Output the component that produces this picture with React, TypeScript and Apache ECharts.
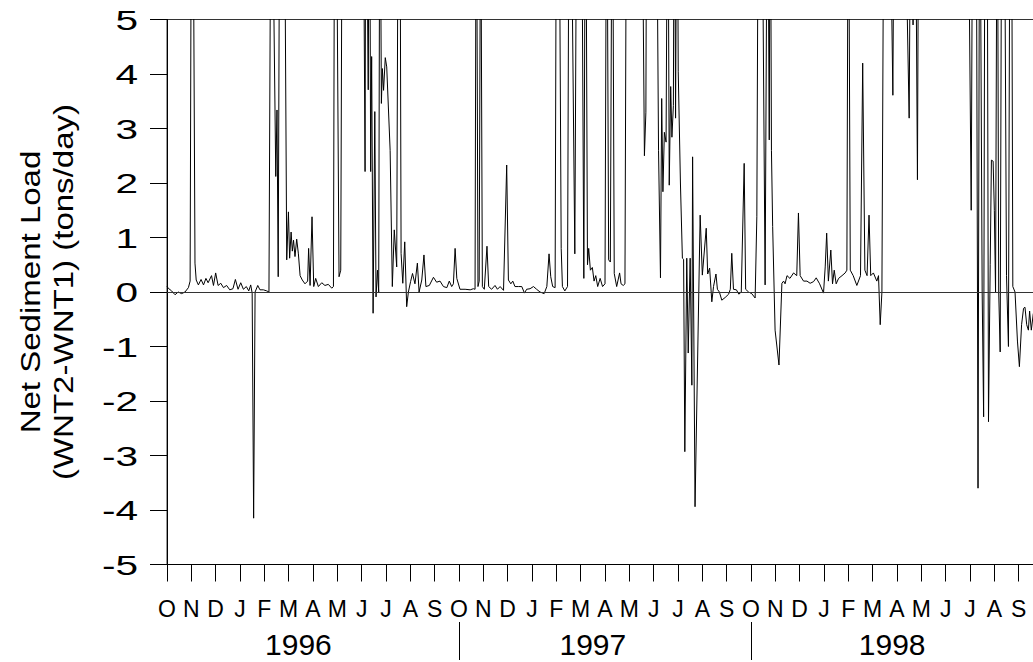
import React, { useEffect, useRef } from 'react';
import * as echarts from 'echarts';

// Month tick labels (water years Oct 1995 – Sep 1998)
const monthLetters = ['O', 'N', 'D', 'J', 'F', 'M', 'A', 'M', 'J', 'J', 'A', 'S'];
const yearLabels = ['1996', '1997', '1998'];
const yearBoundaries = [12, 24]; // months since Oct 1995 where a water year begins
const yTicks = [-5, -4, -3, -2, -1, 0, 1, 2, 3, 4, 5];
const yTitle = ['Net Sediment Load', '(WNT2-WNT1) (tons/day)'];

// [months since 1 Oct 1995, net sediment load (tons/day)]; values above 5 run off the top
const netLoad: [number, number][] = [
  [0.00, 0.10], [0.05, 0.07], [0.19, 0.02], [0.33, -0.05], [0.46, 0.00], [0.60, -0.03], [0.74, 0.00], [0.88, 0.08],
  [0.95, 0.20], [1.01, 9], [1.08, 7], [1.15, 0.53], [1.20, 0.22], [1.29, 0.13], [1.40, 0.23], [1.50, 0.13],
  [1.60, 0.25], [1.69, 0.17], [1.83, 0.30], [1.91, 0.12], [2.00, 0.35], [2.10, 0.12], [2.21, 0.16], [2.32, 0.08],
  [2.45, 0.12], [2.58, 0.04], [2.71, 0.06], [2.81, 0.23], [2.92, 0.05], [3.03, 0.17], [3.14, 0.05], [3.26, 0.10],
  [3.36, 0.02], [3.44, 0.13], [3.50, -0.02], [3.56, -4.15], [3.62, 0.00], [3.73, 0.12], [3.82, 0.04], [3.96, 0.04],
  [4.10, 0.02], [4.19, 0.00], [4.27, 8], [4.37, 6], [4.47, 2.12], [4.52, 3.34], [4.57, 0.28], [4.64, 9],
  [4.73, 8], [4.85, 6], [4.92, 0.59], [4.99, 1.47], [5.04, 0.62], [5.10, 1.10], [5.15, 0.75], [5.20, 0.95],
  [5.26, 0.65], [5.33, 0.97], [5.40, 0.70], [5.47, 0.30], [5.56, 0.22], [5.67, 0.15], [5.78, 0.20], [5.82, 0.80],
  [5.88, 0.12], [5.96, 1.38], [6.03, 0.10], [6.11, 0.25], [6.22, 0.10], [6.36, 0.17], [6.49, 0.12], [6.63, 0.14],
  [6.77, 0.07], [6.84, 0.10], [6.90, 10], [6.97, 7], [7.07, 0.28], [7.14, 0.40], [7.20, 8], [7.50, 9],
  [7.80, 8], [8.05, 9], [8.14, 2.21], [8.17, 9], [8.27, 3.71], [8.32, 9], [8.37, 2.21], [8.41, 4.32],
  [8.47, -0.39], [8.54, 3.31], [8.59, -0.09], [8.65, 0.40], [8.70, 0.00], [8.75, 9], [8.81, 3.46], [8.85, 4.10],
  [8.90, 3.70], [8.97, 4.30], [9.03, 4.13], [9.17, 2.60], [9.26, 0.10], [9.34, 1.14], [9.44, 0.46], [9.51, 9],
  [9.58, 7], [9.62, 0.71], [9.69, 0.16], [9.77, 0.92], [9.85, -0.27], [9.92, 0.00], [10.01, 0.19], [10.09, 0.34],
  [10.19, 0.15], [10.29, 0.53], [10.36, 0.00], [10.47, 0.22], [10.56, 0.68], [10.64, 0.10], [10.78, 0.12], [10.95, 0.27],
  [11.08, 0.18], [11.22, 0.20], [11.36, 0.10], [11.50, 0.08], [11.60, 0.20], [11.70, 0.10], [11.77, 0.15], [11.84, 0.80],
  [11.91, 0.25], [12.04, 0.05], [12.25, 0.05], [12.46, 0.04], [12.59, 0.06], [12.66, 0.05], [12.71, 9], [12.78, 0.10],
  [12.83, 0.20], [12.89, 8], [12.96, 0.10], [13.04, 0.05], [13.15, 0.84], [13.22, 0.10], [13.34, 0.05], [13.48, 0.12],
  [13.58, 0.05], [13.69, 0.10], [13.83, 0.03], [13.96, 2.33], [14.03, 0.22], [14.13, 0.15], [14.21, 0.20], [14.30, 0.10],
  [14.44, 0.10], [14.58, 0.10], [14.69, -0.02], [14.78, 0.05], [14.92, 0.06], [15.06, 0.10], [15.19, 0.05], [15.33, 0.00],
  [15.50, -0.03], [15.61, 0.10], [15.70, 0.70], [15.77, 0.28], [15.85, 0.10], [15.95, 0.08], [16.01, 9], [16.10, 9],
  [16.20, 0.80], [16.25, 0.10], [16.35, 0.02], [16.46, 0.10], [16.53, 9], [16.62, 7], [16.76, 0.70], [16.85, 9],
  [16.95, 8], [17.05, 7], [17.13, 0.25], [17.20, 9], [17.28, 0.50], [17.33, 0.80], [17.40, 0.40], [17.48, 0.45],
  [17.55, 0.20], [17.62, 0.30], [17.70, 0.10], [17.80, 0.25], [17.90, 0.10], [18.00, 0.15], [18.07, 9], [18.15, 0.59],
  [18.22, 0.55], [18.30, 9], [18.38, 0.34], [18.48, 0.10], [18.60, 0.35], [18.66, 0.15], [18.75, 0.12], [18.82, 0.15],
  [18.89, 9], [19.20, 9], [19.50, 9], [19.62, 2.50], [19.68, 3.30], [19.72, 9], [20.10, 9], [20.20, 2.60],
  [20.28, 0.26], [20.33, 3.55], [20.38, 1.84], [20.44, 2.93], [20.51, 2.75], [20.58, 9], [20.64, 1.96], [20.70, 3.77],
  [20.75, 2.84], [20.81, 3.42], [20.85, 9], [20.90, 3.19], [20.96, 9], [21.01, 4.04], [21.10, 2.00], [21.18, 0.62],
  [21.23, 0.60], [21.28, -2.93], [21.36, 0.62], [21.42, -1.12], [21.50, 0.62], [21.57, -1.71], [21.60, 2.48], [21.70, -3.94],
  [21.91, 1.41], [22.00, 0.31], [22.16, 1.17], [22.22, 0.33], [22.30, 0.44], [22.39, -0.18], [22.46, 0.10], [22.56, 0.33],
  [22.62, 0.05], [22.70, 0.00], [22.80, -0.15], [22.94, -0.10], [23.08, -0.04], [23.15, 0.05], [23.21, 0.71], [23.28, 0.05],
  [23.40, 0.04], [23.50, -0.04], [23.60, 0.00], [23.72, 2.36], [23.78, 0.05], [23.90, 0.00], [24.03, -0.03], [24.17, -0.11],
  [24.24, 1.38], [24.31, 9], [24.45, 8], [24.58, 0.13], [24.68, 9], [24.75, 2.79], [24.79, 9], [24.84, 2.60],
  [24.89, 1.20], [24.99, -0.70], [25.15, -1.34], [25.27, 0.16], [25.34, 0.20], [25.40, 0.15], [25.48, 0.30], [25.60, 0.25],
  [25.75, 0.35], [25.88, 0.30], [25.95, 1.45], [26.02, 0.30], [26.16, 0.20], [26.30, 0.20], [26.43, 0.16], [26.57, 0.19],
  [26.68, 0.26], [26.82, 0.15], [26.98, -0.02], [27.05, 0.46], [27.11, 1.08], [27.18, 0.20], [27.28, 0.77], [27.35, 0.15],
  [27.42, 0.40], [27.50, 0.15], [27.60, 0.25], [27.74, 0.30], [27.87, 0.35], [27.94, 0.40], [28.00, 9], [28.08, 0.40],
  [28.20, 0.30], [28.35, 0.12], [28.50, 0.30], [28.59, 4.20], [28.68, 0.40], [28.77, 0.30], [28.85, 1.41], [28.92, 0.30],
  [29.03, 0.35], [29.17, 0.20], [29.24, 0.30], [29.31, -0.60], [29.38, 0.00], [29.47, 9], [29.70, 8], [29.83, 3.61],
  [29.90, 9], [30.30, 8], [30.50, 3.19], [30.58, 9], [30.66, 4.90], [30.74, 9], [30.84, 2.06], [30.90, 9],
  [31.50, 9], [32.20, 9], [32.90, 9], [33.05, 1.50], [33.12, 9], [33.25, 9], [33.33, -3.60], [33.40, 9],
  [33.50, 0.00], [33.56, -2.29], [33.62, 9], [33.70, 9], [33.76, -2.38], [33.83, 0.50], [33.88, 2.42], [33.95, 2.40],
  [34.00, 1.50], [34.05, 0.00], [34.12, 9], [34.18, 0.00], [34.24, -1.10], [34.31, 9], [34.40, 9], [34.50, 0.30],
  [34.58, -1.00], [34.65, 9], [34.70, 9], [34.76, 0.10], [34.85, 0.00], [34.95, -0.90], [35.03, -1.37], [35.12, -0.60],
  [35.20, -0.30], [35.26, -0.28], [35.33, -0.60], [35.40, -0.70], [35.45, -0.35], [35.52, -0.70], [35.60, -0.40], [35.70, -0.50],
  [35.85, -0.30], [36.00, -0.20],
];

const FONT = '"Liberation Sans", Arial, Helvetica, sans-serif';
const yearLabelAt = [5.4, 17.5, 29.8]; // label anchor, in months

export default function App() {
  const ref = useRef<HTMLDivElement>(null);

  useEffect(() => {
    if (!ref.current) return;
    const chart = echarts.init(ref.current, undefined, { renderer: 'svg' });
    chart.setOption({
      animation: false,
      backgroundColor: '#fff',
      grid: { left: 167, right: 17, top: 19.5, bottom: 97.5, show: true, borderColor: '#333', borderWidth: 1 },
      xAxis: {
        type: 'value', min: 0, max: 36, interval: 1,
        axisLine: { show: true, onZero: false, lineStyle: { color: '#000', width: 1 } },
        axisTick: { show: true, length: 17, lineStyle: { color: '#000', width: 1 } },
        axisLabel: {
          color: '#000', fontFamily: FONT, fontSize: 23, margin: 33,
          formatter: (v: number) => (v >= 36 ? '' : monthLetters[Math.round(v) % 12]),
        },
        splitLine: { show: false },
      },
      yAxis: {
        type: 'value', min: -5, max: 5, interval: 1,
        axisLine: { show: true, lineStyle: { color: '#000', width: 1 } },
        axisTick: { show: true, length: 17, lineStyle: { color: '#000', width: 1 } },
        axisLabel: { show: false },
        splitLine: { show: false },
      },
      series: [{
        type: 'line', data: netLoad, showSymbol: false, clip: true,
        lineStyle: { color: '#000', width: 1 },
        markLine: {
          silent: true, symbol: 'none', label: { show: false },
          lineStyle: { color: '#333', width: 1, type: 'solid' },
          data: [{ yAxis: 0 }],
        },
      }],
    });

    const graphics: any[] = [];
    yTicks.forEach((v) => {
      const y = chart.convertToPixel({ yAxisIndex: 0 }, v) as number;
      graphics.push({
        type: 'text', x: 138, y, scaleX: 1.45,
        style: { text: String(v), font: `28px ${FONT}`, fill: '#000', textAlign: 'right', textVerticalAlign: 'middle' },
      });
    });
    yearLabels.forEach((t, i) => {
      const x = chart.convertToPixel({ xAxisIndex: 0 }, yearLabelAt[i]) as number;
      graphics.push({
        type: 'text', x, y: 644,
        style: { text: t, font: `30px ${FONT}`, fill: '#000', textAlign: 'center', textVerticalAlign: 'middle' },
      });
    });
    yearBoundaries.forEach((m) => {
      const x = Math.round(chart.convertToPixel({ xAxisIndex: 0 }, m) as number) + 0.5;
      graphics.push({ type: 'line', shape: { x1: x, y1: 622, x2: x, y2: 660 }, style: { stroke: '#000', lineWidth: 1 } });
    });
    graphics.push({
      type: 'text', x: 46, y: 292, rotation: Math.PI / 2, scaleX: 1.18,
      style: {
        text: yTitle.join('\n'), font: `28px ${FONT}`, fill: '#000', lineHeight: 33,
        textAlign: 'center', textVerticalAlign: 'middle',
      },
    });
    chart.setOption({ graphic: graphics });

    return () => chart.dispose();
  }, []);

  return (
    <div style={{ position: 'absolute', left: 0, top: 0, width: 1033, height: 662, overflow: 'hidden' }}>
      <div ref={ref} style={{ width: 1060, height: 662 }} />
    </div>
  );
}
